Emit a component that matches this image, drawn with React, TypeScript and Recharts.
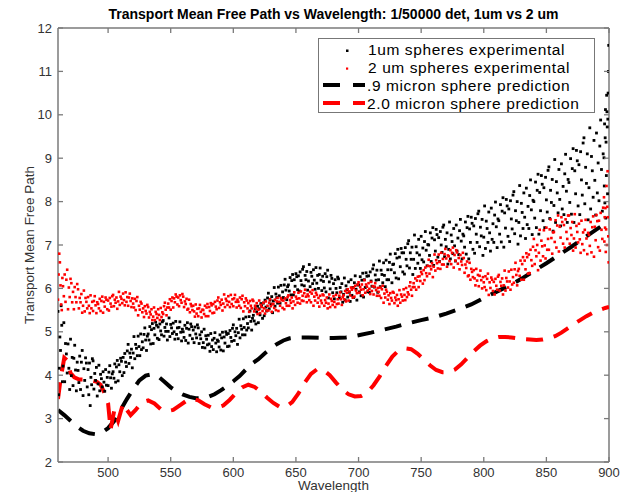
import React from "react";
import { ComposedChart, Scatter, Line, XAxis, YAxis, ReferenceLine } from "recharts";

// ---------- data ----------
const X_TICKS = [500, 550, 600, 650, 700, 750, 800, 850, 900];
const Y_TICKS = [2, 3, 4, 5, 6, 7, 8, 9, 10, 11, 12];

// 1um spheres experimental: [start wavelength of a 4 nm block, consecutive samples in it]
const BLACK_1UM: [number, number[]][] = [
  [460, [5.47, 3.55, 4.16, 4.88, 4.57, 5.6, 5.15, 3.85]],
  [464, [4.21, 5.21, 3.85, 4.73, 4.49, 4.05]],
  [468, [4.72, 4.16, 3.67, 4.83, 3.99, 4.41]],
  [472, [3.76, 4.39, 4.69, 4.12, 3.64, 4.3]],
  [476, [4.11, 3.83, 4.44, 3.67, 4.3, 4.57]],
  [480, [3.53, 4.15, 3.88, 4.4, 4.28, 3.73]],
  [484, [4.13, 3.55, 4.28, 3.3, 3.95, 3.78, 4.38]],
  [488, [4.33, 3.68, 4.04, 3.88, 4.18, 3.52]],
  [492, [3.8, 4.23, 3.64, 4.02, 3.92, 3.73]],
  [496, [4.08, 3.84, 3.63, 4.13, 3.77, 3.95]],
  [500, [3.76, 4.07, 4.22, 3.94, 3.7, 4.03]],
  [504, [4.08, 3.93, 4.26, 3.84, 4.19, 4.34]],
  [508, [3.87, 4.24, 4.08, 4.39, 4.32, 3.99]],
  [512, [4.41, 4.06, 4.5, 4.3, 4.2, 4.56]],
  [516, [4.71, 4.27, 4.51, 4.41, 4.6, 4.17]],
  [520, [4.51, 4.89, 4.38, 4.71, 4.62, 4.45]],
  [524, [4.9, 4.66, 4.45, 4.95, 4.59, 4.77]],
  [528, [4.63, 4.94, 5.09, 4.81, 4.57, 4.9]],
  [532, [4.95, 4.81, 5.12, 4.72, 5.05, 5.19]],
  [536, [4.73, 5.08, 4.93, 5.22, 5.15, 4.85]],
  [540, [5.11, 4.82, 5.18, 5.02, 4.93, 5.23]],
  [544, [5.26, 4.9, 5.1, 5.01, 5.18, 4.81]],
  [548, [5.01, 5.32, 4.89, 5.17, 5.09, 4.96]],
  [552, [5.2, 5.0, 4.83, 5.24, 4.94, 5.09]],
  [556, [4.84, 5.1, 5.23, 4.99, 4.79, 5.06]],
  [560, [5.0, 4.87, 5.15, 4.8, 5.08, 5.21]],
  [564, [4.74, 5.06, 4.92, 5.18, 5.12, 4.84]],
  [568, [5.04, 4.75, 5.11, 4.95, 4.86, 5.16]],
  [572, [5.09, 4.73, 4.93, 4.84, 5.0, 4.64]],
  [576, [4.75, 5.06, 4.63, 4.91, 4.83, 4.7]],
  [580, [4.92, 4.72, 4.55, 4.96, 4.66, 4.81]],
  [584, [4.59, 4.85, 4.98, 4.74, 4.54, 4.81]],
  [588, [4.78, 4.65, 4.93, 4.58, 4.86, 4.99]],
  [592, [4.56, 4.88, 4.74, 5.0, 4.94, 4.66]],
  [596, [4.96, 4.67, 5.03, 4.87, 4.78, 5.08]],
  [600, [5.16, 4.8, 5.0, 4.91, 5.08, 4.71]],
  [604, [4.98, 5.29, 4.86, 5.14, 5.06, 4.93]],
  [608, [5.3, 5.1, 4.93, 5.34, 5.04, 5.19]],
  [612, [5.09, 5.35, 5.48, 5.24, 5.04, 5.31]],
  [616, [5.38, 5.25, 5.53, 5.18, 5.46, 5.59]],
  [620, [5.21, 5.53, 5.39, 5.65, 5.59, 5.31]],
  [624, [5.66, 5.37, 5.73, 5.57, 5.48, 5.78]],
  [628, [5.89, 5.53, 5.73, 5.64, 5.81, 5.44]],
  [632, [5.71, 6.02, 5.59, 5.87, 5.79, 5.66]],
  [636, [6.03, 5.83, 5.66, 6.07, 5.77, 5.92]],
  [640, [5.79, 6.08, 6.21, 5.96, 5.74, 6.04]],
  [644, [6.08, 5.94, 6.25, 5.85, 6.18, 6.32]],
  [648, [5.85, 6.2, 6.05, 6.34, 6.27, 5.97]],
  [652, [6.29, 5.94, 6.38, 6.18, 6.08, 6.44]],
  [656, [6.5, 6.06, 6.3, 6.2, 6.39, 5.96]],
  [660, [6.17, 6.55, 6.04, 6.37, 6.28, 6.11]],
  [664, [6.43, 6.19, 5.98, 6.48, 6.12, 6.3]],
  [668, [6.0, 6.32, 6.47, 6.19, 5.95, 6.28]],
  [672, [6.16, 6.01, 6.34, 5.92, 6.27, 6.42]],
  [676, [5.78, 6.15, 5.99, 6.3, 6.23, 5.9]],
  [680, [6.11, 5.76, 6.2, 6.0, 5.9, 6.26]],
  [684, [6.22, 5.78, 6.02, 5.92, 6.11, 5.68]],
  [688, [5.86, 6.24, 5.73, 6.06, 5.97, 5.8]],
  [692, [6.15, 5.91, 5.7, 6.2, 5.84, 6.02]],
  [696, [5.79, 6.13, 6.29, 5.98, 5.73, 6.08]],
  [700, [6.08, 5.92, 6.27, 5.83, 6.19, 6.35]],
  [704, [5.8, 6.2, 6.02, 6.36, 6.28, 5.92]],
  [708, [6.29, 5.91, 6.38, 6.17, 6.05, 6.45]],
  [712, [6.54, 6.03, 6.31, 6.19, 6.42, 5.91]],
  [716, [6.2, 6.63, 6.04, 6.42, 6.32, 6.13]],
  [720, [6.59, 6.3, 6.04, 6.65, 6.2, 6.43]],
  [724, [6.2, 6.6, 6.79, 6.43, 6.13, 6.55]],
  [728, [6.56, 6.36, 6.8, 6.24, 6.7, 6.9]],
  [732, [6.22, 6.72, 6.5, 6.92, 6.82, 6.38]],
  [736, [6.82, 6.33, 6.94, 6.67, 6.52, 7.03]],
  [740, [7.1, 6.47, 6.82, 6.67, 6.95, 6.32]],
  [744, [6.67, 7.23, 6.46, 6.96, 6.82, 6.58]],
  [748, [7.13, 6.77, 6.46, 7.2, 6.66, 6.93]],
  [752, [6.61, 7.08, 7.31, 6.88, 6.52, 7.01]],
  [756, [7.0, 6.76, 7.28, 6.62, 7.16, 7.4]],
  [760, [6.53, 7.12, 6.86, 7.36, 7.24, 6.72]],
  [764, [7.17, 6.62, 7.31, 7.0, 6.83, 7.41]],
  [768, [7.46, 6.73, 7.13, 6.96, 7.28, 6.56]],
  [772, [6.9, 7.53, 6.68, 7.23, 7.08, 6.8]],
  [776, [7.38, 6.98, 6.63, 7.46, 6.86, 7.16]],
  [780, [6.78, 7.33, 7.59, 7.09, 6.68, 7.25]],
  [784, [7.21, 6.95, 7.53, 6.79, 7.4, 7.66]],
  [788, [6.68, 7.37, 7.06, 7.64, 7.5, 6.9]],
  [792, [7.44, 6.81, 7.61, 7.25, 7.06, 7.72]],
  [796, [7.78, 6.96, 7.41, 7.21, 7.59, 6.76]],
  [800, [7.18, 7.9, 6.92, 7.55, 7.38, 7.06]],
  [804, [7.76, 7.28, 6.86, 7.85, 7.13, 7.49]],
  [808, [7.06, 7.69, 7.99, 7.42, 6.94, 7.6]],
  [812, [7.56, 7.25, 7.93, 7.07, 7.78, 8.09]],
  [816, [6.95, 7.74, 7.39, 8.05, 7.9, 7.2]],
  [820, [7.83, 7.08, 8.02, 7.6, 7.37, 8.15]],
  [824, [8.23, 7.26, 7.79, 7.56, 8.0, 7.02]],
  [828, [7.52, 8.37, 7.21, 7.96, 7.75, 7.38]],
  [832, [8.2, 7.64, 7.15, 8.31, 7.47, 7.89]],
  [836, [7.38, 8.14, 8.5, 7.81, 7.24, 8.03]],
  [840, [8.0, 7.62, 8.45, 7.4, 8.26, 8.63]],
  [844, [7.25, 8.21, 7.79, 8.6, 8.4, 7.56]],
  [848, [8.32, 7.4, 8.56, 8.04, 7.76, 8.72]],
  [852, [8.8, 7.61, 8.26, 7.98, 8.51, 7.32]],
  [856, [7.91, 8.97, 7.52, 8.46, 8.2, 7.74]],
  [860, [8.74, 8.05, 7.44, 8.87, 7.83, 8.35]],
  [864, [7.7, 8.64, 9.09, 8.24, 7.52, 8.51]],
  [868, [8.44, 7.98, 8.99, 7.71, 8.76, 9.22]],
  [872, [7.52, 8.71, 8.18, 9.18, 8.94, 7.9]],
  [876, [8.85, 7.7, 9.15, 8.5, 8.15, 9.35]],
  [880, [9.47, 7.95, 8.79, 8.42, 9.1, 7.58]],
  [884, [8.32, 9.7, 7.83, 9.04, 8.71, 8.1]],
  [888, [9.41, 8.49, 7.69, 9.58, 8.2, 8.89]],
  [892, [8.02, 9.28, 9.88, 8.74, 7.78, 9.1]],
  [896, [9.01, 8.36, 9.79, 7.97, 9.47, 10.12, 7.62, 9.37, 8.6, 10.45, 10.07, 9.72, 8.18, 9.9, 10.5, 11.0, 11.6]],
];

// 2 um spheres experimental
const RED_2UM: [number, number[]][] = [
  [460, [5.74, 6.32, 6.8, 6.6, 6.07, 5.63, 5.5, 6.24]],
  [464, [6.05, 5.82, 6.32, 5.69, 6.2, 6.43]],
  [468, [5.52, 6.02, 5.8, 6.22, 6.12, 5.68]],
  [472, [5.92, 5.52, 6.03, 5.8, 5.68, 6.1]],
  [476, [5.98, 5.54, 5.78, 5.68, 5.87, 5.44]],
  [480, [5.6, 5.95, 5.47, 5.78, 5.69, 5.54]],
  [484, [5.8, 5.6, 5.43, 5.84, 5.54, 5.69]],
  [488, [5.48, 5.71, 5.82, 5.61, 5.43, 5.68]],
  [492, [5.64, 5.54, 5.76, 5.48, 5.71, 5.81]],
  [496, [5.44, 5.69, 5.58, 5.79, 5.74, 5.52]],
  [500, [5.72, 5.49, 5.78, 5.65, 5.58, 5.82]],
  [504, [5.85, 5.59, 5.74, 5.67, 5.79, 5.53]],
  [508, [5.7, 5.92, 5.62, 5.81, 5.76, 5.66]],
  [512, [5.88, 5.73, 5.61, 5.91, 5.69, 5.8]],
  [516, [5.6, 5.79, 5.88, 5.71, 5.57, 5.77]],
  [520, [5.65, 5.56, 5.76, 5.5, 5.71, 5.8]],
  [524, [5.38, 5.6, 5.51, 5.69, 5.65, 5.45]],
  [528, [5.54, 5.34, 5.59, 5.48, 5.42, 5.62]],
  [532, [5.57, 5.33, 5.46, 5.4, 5.52, 5.27]],
  [536, [5.35, 5.56, 5.27, 5.46, 5.41, 5.32]],
  [540, [5.52, 5.39, 5.27, 5.55, 5.34, 5.45]],
  [544, [5.41, 5.59, 5.67, 5.51, 5.38, 5.56]],
  [548, [5.65, 5.56, 5.75, 5.51, 5.71, 5.79]],
  [552, [5.56, 5.77, 5.68, 5.86, 5.81, 5.63]],
  [556, [5.79, 5.59, 5.84, 5.73, 5.67, 5.87]],
  [560, [5.81, 5.57, 5.7, 5.64, 5.76, 5.51]],
  [564, [5.53, 5.74, 5.45, 5.64, 5.59, 5.5]],
  [568, [5.6, 5.47, 5.35, 5.63, 5.42, 5.53]],
  [572, [5.36, 5.54, 5.62, 5.46, 5.33, 5.51]],
  [576, [5.5, 5.41, 5.6, 5.36, 5.56, 5.64]],
  [580, [5.36, 5.57, 5.48, 5.66, 5.61, 5.43]],
  [584, [5.64, 5.44, 5.69, 5.58, 5.52, 5.72]],
  [588, [5.79, 5.55, 5.68, 5.62, 5.74, 5.49]],
  [592, [5.65, 5.86, 5.57, 5.76, 5.71, 5.62]],
  [596, [5.82, 5.69, 5.57, 5.85, 5.64, 5.75]],
  [600, [5.59, 5.77, 5.85, 5.69, 5.56, 5.74]],
  [604, [5.69, 5.6, 5.79, 5.55, 5.75, 5.83]],
  [608, [5.47, 5.68, 5.59, 5.77, 5.72, 5.54]],
  [612, [5.66, 5.46, 5.71, 5.6, 5.54, 5.74]],
  [616, [5.71, 5.47, 5.6, 5.54, 5.66, 5.41]],
  [620, [5.51, 5.72, 5.43, 5.62, 5.57, 5.48]],
  [624, [5.67, 5.54, 5.42, 5.7, 5.49, 5.6]],
  [628, [5.49, 5.67, 5.75, 5.59, 5.46, 5.64]],
  [632, [5.64, 5.55, 5.74, 5.5, 5.7, 5.78]],
  [636, [5.48, 5.69, 5.6, 5.78, 5.73, 5.55]],
  [640, [5.72, 5.52, 5.77, 5.66, 5.6, 5.8]],
  [644, [5.84, 5.6, 5.73, 5.67, 5.79, 5.54]],
  [648, [5.7, 5.91, 5.62, 5.81, 5.76, 5.67]],
  [652, [5.9, 5.77, 5.65, 5.93, 5.72, 5.83]],
  [656, [5.71, 5.89, 5.97, 5.81, 5.68, 5.86]],
  [660, [5.82, 5.73, 5.92, 5.68, 5.88, 5.96]],
  [664, [5.6, 5.81, 5.72, 5.9, 5.85, 5.67]],
  [668, [5.78, 5.58, 5.83, 5.72, 5.66, 5.86]],
  [672, [5.84, 5.6, 5.73, 5.67, 5.79, 5.54]],
  [676, [5.65, 5.86, 5.57, 5.76, 5.71, 5.62]],
  [680, [5.82, 5.69, 5.57, 5.85, 5.64, 5.75]],
  [684, [5.65, 5.83, 5.91, 5.75, 5.62, 5.8]],
  [688, [5.84, 5.75, 5.94, 5.7, 5.9, 5.98]],
  [692, [5.72, 5.93, 5.84, 6.02, 5.97, 5.79]],
  [696, [6.01, 5.81, 6.06, 5.95, 5.89, 6.09]],
  [700, [6.14, 5.9, 6.03, 5.97, 6.09, 5.84]],
  [704, [5.98, 6.19, 5.9, 6.09, 6.04, 5.95]],
  [708, [6.12, 5.99, 5.87, 6.15, 5.94, 6.05]],
  [712, [5.86, 6.04, 6.12, 5.96, 5.83, 6.01]],
  [716, [5.92, 5.83, 6.02, 5.78, 5.98, 6.06]],
  [720, [5.67, 5.88, 5.79, 5.97, 5.92, 5.74]],
  [724, [5.84, 5.64, 5.89, 5.78, 5.72, 5.92]],
  [728, [5.9, 5.66, 5.79, 5.73, 5.85, 5.6]],
  [732, [5.75, 5.96, 5.67, 5.86, 5.81, 5.72]],
  [736, [5.98, 5.85, 5.73, 6.01, 5.8, 5.91]],
  [740, [5.86, 6.05, 6.14, 5.97, 5.83, 6.03]],
  [744, [6.12, 6.03, 6.23, 5.97, 6.18, 6.27]],
  [748, [6.03, 6.28, 6.17, 6.38, 6.33, 6.11]],
  [752, [6.42, 6.19, 6.48, 6.35, 6.28, 6.52]],
  [756, [6.66, 6.34, 6.51, 6.44, 6.58, 6.26]],
  [760, [6.5, 6.78, 6.41, 6.65, 6.58, 6.46]],
  [764, [6.78, 6.61, 6.45, 6.82, 6.55, 6.68]],
  [768, [6.55, 6.79, 6.91, 6.69, 6.5, 6.76]],
  [772, [6.74, 6.63, 6.88, 6.56, 6.82, 6.94]],
  [776, [6.48, 6.77, 6.64, 6.88, 6.83, 6.57]],
  [780, [6.7, 6.44, 6.77, 6.62, 6.54, 6.82]],
  [784, [6.7, 6.36, 6.55, 6.47, 6.62, 6.28]],
  [788, [6.3, 6.59, 6.2, 6.45, 6.38, 6.26]],
  [792, [6.42, 6.23, 6.07, 6.45, 6.18, 6.31]],
  [796, [6.05, 6.29, 6.41, 6.19, 6.0, 6.26]],
  [800, [6.14, 6.03, 6.28, 5.96, 6.22, 6.34]],
  [804, [5.85, 6.14, 6.01, 6.25, 6.2, 5.94]],
  [808, [6.15, 5.86, 6.22, 6.06, 5.97, 6.27]],
  [812, [6.31, 5.95, 6.15, 6.06, 6.23, 5.86]],
  [816, [6.07, 6.41, 5.95, 6.24, 6.16, 6.02]],
  [820, [6.39, 6.16, 5.97, 6.43, 6.09, 6.26]],
  [824, [6.13, 6.44, 6.59, 6.31, 6.07, 6.4]],
  [828, [6.45, 6.29, 6.64, 6.2, 6.56, 6.72]],
  [832, [6.2, 6.64, 6.44, 6.81, 6.72, 6.34]],
  [836, [6.78, 6.35, 6.89, 6.65, 6.52, 6.96]],
  [840, [7.14, 6.56, 6.88, 6.74, 7.0, 6.42]],
  [844, [6.82, 7.35, 6.64, 7.1, 6.97, 6.74]],
  [848, [7.34, 6.99, 6.69, 7.4, 6.89, 7.14]],
  [852, [6.89, 7.36, 7.59, 7.16, 6.8, 7.29]],
  [856, [7.3, 7.07, 7.57, 6.94, 7.45, 7.68]],
  [860, [6.85, 7.42, 7.17, 7.64, 7.53, 7.03]],
  [864, [7.46, 6.94, 7.59, 7.3, 7.14, 7.68]],
  [868, [7.68, 7.03, 7.39, 7.23, 7.53, 6.87]],
  [872, [7.15, 7.71, 6.94, 7.44, 7.3, 7.06]],
  [876, [7.49, 7.13, 6.82, 7.56, 7.02, 7.29]],
  [880, [6.88, 7.35, 7.58, 7.15, 6.79, 7.28]],
  [884, [7.23, 6.98, 7.53, 6.83, 7.41, 7.66]],
  [888, [6.73, 7.42, 7.11, 7.69, 7.55, 6.95]],
  [892, [7.56, 6.87, 7.74, 7.35, 7.14, 7.86]],
  [896, [8.1, 7.08, 7.64, 7.4, 7.85, 6.84, 7.36, 8.36, 7.0, 7.88, 8.7, 7.64, 7.2, 6.6]],
];

// .9 micron sphere prediction
const PRED_09: [number, number][] = [
  [460, 3.2], [465, 3.08], [470, 2.95], [475, 2.82], [480, 2.72], [485, 2.66], [490, 2.64], [495, 2.68],
  [500, 2.78], [505, 2.95], [510, 3.2], [515, 3.45], [520, 3.68], [525, 3.88], [530, 3.99], [535, 4.02],
  [540, 3.97], [545, 3.85], [550, 3.72], [555, 3.62], [560, 3.55], [565, 3.5], [570, 3.47], [575, 3.47],
  [580, 3.5], [585, 3.56], [590, 3.65], [595, 3.75], [600, 3.86], [605, 3.98], [610, 4.13], [615, 4.27],
  [620, 4.37], [625, 4.5], [630, 4.62], [635, 4.72], [640, 4.8], [645, 4.85], [650, 4.87], [660, 4.87],
  [670, 4.86], [680, 4.86], [690, 4.87], [695, 4.89], [700, 4.92], [710, 4.98], [720, 5.05], [730, 5.12],
  [740, 5.2], [750, 5.27], [760, 5.33], [770, 5.42], [780, 5.52], [790, 5.63], [800, 5.78], [810, 5.92],
  [820, 6.06], [830, 6.22], [840, 6.4], [850, 6.58], [860, 6.77], [870, 6.96], [880, 7.16], [890, 7.36],
  [900, 7.55],
];

// 2.0 micron sphere prediction
const PRED_20: [number, number][] = [
  [460, 3.45], [462, 3.9], [465, 4.4], [467, 4.35], [470, 4.05], [473, 3.95], [477, 3.9], [482, 3.9],
  [487, 3.88], [491, 3.85], [494, 3.78], [497, 3.6], [500, 3.35], [502, 2.75], [505, 3.2], [508, 2.95],
  [512, 3.35], [515, 3.2], [518, 3.08], [522, 3.2], [527, 3.38], [532, 3.42], [537, 3.35], [542, 3.22],
  [547, 3.17], [552, 3.2], [557, 3.3], [562, 3.4], [567, 3.46], [572, 3.42], [577, 3.33], [582, 3.26],
  [587, 3.25], [592, 3.3], [597, 3.43], [602, 3.58], [607, 3.72], [612, 3.78], [617, 3.73], [622, 3.62],
  [627, 3.48], [632, 3.36], [637, 3.27], [642, 3.27], [647, 3.38], [652, 3.58], [657, 3.83], [662, 4.03],
  [667, 4.14], [672, 4.12], [677, 4.0], [682, 3.83], [687, 3.67], [692, 3.56], [697, 3.51], [702, 3.52],
  [707, 3.6], [712, 3.77], [717, 3.98], [722, 4.22], [727, 4.43], [732, 4.57], [737, 4.62], [742, 4.6],
  [747, 4.5], [752, 4.37], [757, 4.23], [762, 4.12], [767, 4.07], [772, 4.07], [777, 4.13], [782, 4.25],
  [787, 4.4], [792, 4.55], [797, 4.68], [802, 4.78], [807, 4.85], [812, 4.88], [817, 4.88], [822, 4.87],
  [827, 4.85], [832, 4.83], [837, 4.82], [842, 4.81], [847, 4.82], [852, 4.85], [857, 4.9], [862, 4.98],
  [867, 5.08], [872, 5.18], [877, 5.27], [882, 5.36], [887, 5.44], [892, 5.5], [897, 5.55], [900, 5.57],
];

const LEGEND_LABELS = [
  "1um spheres experimental",
  "2 um spheres experimental",
  ".9 micron sphere prediction",
  "2.0 micron sphere prediction",
];
const TITLE = "Transport Mean Free Path vs Wavelength: 1/50000 det, 1um vs 2 um";

// ---------- build tables ----------
const BLOCK = 4;
const toPoints = (cols: [number, number[]][]) =>
  cols.flatMap(([x0, ys]) => ys.map((y, i) => ({ x: x0 + (i * BLOCK) / ys.length, y })));
const blackPts = toPoints(BLACK_1UM);
const redPts = toPoints(RED_2UM);
const pred09 = PRED_09.map(([x, y]) => ({ x, y }));
const pred20 = PRED_20.map(([x, y]) => ({ x, y }));

// ---------- layout ----------
const W = 629;
const H = 492;
const LEFT = 58;
const RIGHT = 20;
const TOP = 28;
const BOTTOM = 30;
const PLOT_W = W - LEFT - RIGHT;
const PLOT_H = H - TOP - BOTTOM;
const FONT = "'Liberation Sans', Arial, Helvetica, sans-serif";
const AXIS = "#7a7a7a";
const TICK_TXT = "#333";

const BottomTick = (p: any) => {
  const { x, y, payload } = p;
  return (
    <g>
      <line x1={x} y1={y} x2={x} y2={y - 5} stroke={AXIS} strokeWidth={1.3} />
      <line x1={x} y1={y - PLOT_H} x2={x} y2={y - PLOT_H + 5} stroke={AXIS} strokeWidth={1.3} />
      <text x={x} y={y + 14.5} textAnchor="middle" fontSize={13} fill={TICK_TXT} fontFamily={FONT}>
        {payload.value}
      </text>
    </g>
  );
};

const LeftTick = (p: any) => {
  const { x, y, payload } = p;
  return (
    <g>
      <line x1={x} y1={y} x2={x + 5} y2={y} stroke={AXIS} strokeWidth={1.3} />
      <line x1={x + PLOT_W} y1={y} x2={x + PLOT_W - 5} y2={y} stroke={AXIS} strokeWidth={1.3} />
      <text x={x - 6} y={y + 4.5} textAnchor="end" fontSize={13} fill={TICK_TXT} fontFamily={FONT}>
        {payload.value}
      </text>
    </g>
  );
};

const blackDot = (p: any) => <rect x={p.cx - 1.4} y={p.cy - 1.4} width={2.8} height={2.8} fill="#000" />;
const redDot = (p: any) => <rect x={p.cx - 1.3} y={p.cy - 1.3} width={2.6} height={2.6} fill="#ff0000" />;

const LEG_LEFT = 318;
const LEG_TOP = 38;
const LEG_W = 277;
const LEG_H = 75;
const ROW_PITCH = 18;
const ROW0 = 9.5; // first row centre, relative to box top

const LegendBox = () => {
  const rows = [0, 1, 2, 3].map((i) => ROW0 + i * ROW_PITCH);
  return (
    <div
      style={{
        position: "absolute",
        left: LEG_LEFT,
        top: LEG_TOP,
        width: LEG_W,
        height: LEG_H,
        border: "1.3px solid #777",
        background: "#fff",
        boxSizing: "border-box",
      }}
    >
      <svg width={LEG_W} height={LEG_H} style={{ position: "absolute", left: -1, top: -1 }}>
        <rect x={28} y={rows[0] + 2} width={2.5} height={2.5} fill="#000" />
        <rect x={28} y={rows[1] + 2} width={2.2} height={2.2} fill="#ff0000" />
        <line x1={5} y1={rows[2] + 1.5} x2={47} y2={rows[2] + 1.5} stroke="#000" strokeWidth={4} strokeDasharray="17 13" />
        <line x1={5} y1={rows[3] + 1.5} x2={47} y2={rows[3] + 1.5} stroke="#ff0000" strokeWidth={4} strokeDasharray="17 13" />
      </svg>
      {LEGEND_LABELS.map((t, i) => (
        <div
          key={t}
          style={{
            position: "absolute",
            left: i < 2 ? 49 : 48,
            top: rows[i] - 8,
            fontFamily: FONT,
            fontSize: 15.5,
            letterSpacing: "0.6px",
            lineHeight: "17px",
            height: 17,
            color: "#000",
            whiteSpace: "nowrap",
          }}
        >
          {t}
        </div>
      ))}
    </div>
  );
};

export default function App() {
  return (
    <div style={{ position: "absolute", left: 0, top: 0, width: W, height: H, background: "#fff", overflow: "hidden" }}>
      <ComposedChart
        width={W}
        height={H}
        margin={{ top: TOP, right: RIGHT, bottom: 0, left: 0 }}
        style={{ position: "absolute", left: 0, top: 0 }}
      >
        <XAxis
          dataKey="x"
          type="number"
          domain={[460, 900]}
          allowDataOverflow
          ticks={X_TICKS}
          height={BOTTOM}
          tickSize={0}
          tickMargin={0}
          tick={<BottomTick />}
          axisLine={{ stroke: AXIS, strokeWidth: 1.5 }}
          tickLine={false}
          interval={0}
        />
        <YAxis
          dataKey="y"
          type="number"
          domain={[2, 12]}
          allowDataOverflow
          ticks={Y_TICKS}
          width={LEFT}
          tickSize={0}
          tickMargin={0}
          tick={<LeftTick />}
          axisLine={{ stroke: AXIS, strokeWidth: 1.5 }}
          tickLine={false}
          interval={0}
        />
        <ReferenceLine y={12} stroke={AXIS} strokeWidth={1.5} />
        <ReferenceLine x={900} stroke={AXIS} strokeWidth={1.5} />
        <Scatter data={blackPts} dataKey="y" shape={blackDot} isAnimationActive={false} />
        <Scatter data={redPts} dataKey="y" shape={redDot} isAnimationActive={false} />
        <Line
          data={pred09}
          dataKey="y"
          type="linear"
          stroke="#000"
          strokeWidth={4}
          strokeDasharray="17 11"
          dot={false}
          activeDot={false}
          isAnimationActive={false}
        />
        <Line
          data={pred20}
          dataKey="y"
          type="linear"
          stroke="#ff0000"
          strokeWidth={4}
          strokeDasharray="17 11"
          dot={false}
          activeDot={false}
          isAnimationActive={false}
        />
      </ComposedChart>

      <div
        style={{
          position: "absolute",
          left: LEFT - 40,
          width: PLOT_W + 80,
          top: 6,
          textAlign: "center",
          fontFamily: FONT,
          fontWeight: "bold",
          fontSize: 14,
          lineHeight: "16px",
          color: "#000",
          whiteSpace: "nowrap",
        }}
      >
        {TITLE}
      </div>
      <div
        style={{
          position: "absolute",
          left: LEFT,
          width: PLOT_W,
          top: 479,
          textAlign: "center",
          fontFamily: FONT,
          fontSize: 13.5,
          lineHeight: "13px",
          color: "#333",
        }}
      >
        Wavelength
      </div>
      <div
        style={{
          position: "absolute",
          left: 29,
          top: TOP + PLOT_H / 2,
          transform: "translate(-50%, -50%) rotate(-90deg)",
          fontFamily: FONT,
          fontSize: 13.5,
          color: "#333",
          whiteSpace: "nowrap",
        }}
      >
        Transport Mean Free Path
      </div>
      <LegendBox />
    </div>
  );
}
